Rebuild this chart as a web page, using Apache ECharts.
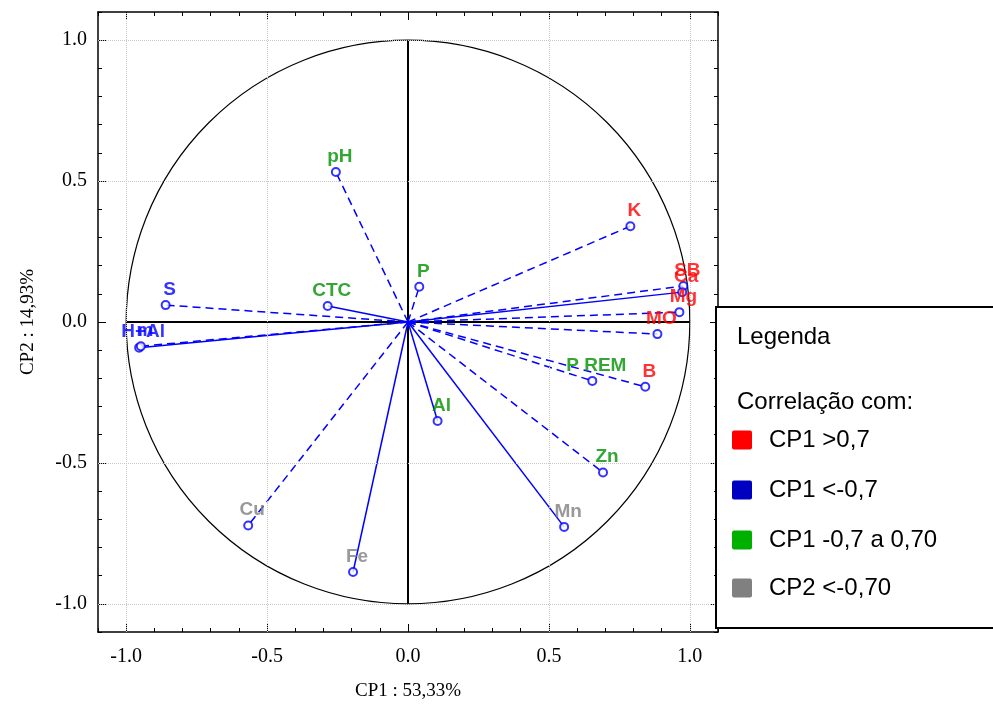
<!DOCTYPE html>
<html><head><meta charset="utf-8">
<script src="https://cdn.jsdelivr.net/npm/echarts@6/dist/echarts.min.js"></script>
<style>html,body{margin:0;padding:0;background:#fff}#c{width:993px;height:706px}</style>
</head><body><div id="c"></div>
<script>
// ---- data ----
const variables = ['pH','K','S','CTC','P','H+Al','m','SB','Ca','Mg','MO','B','P REM','Al','Zn','Mn','Cu','Fe'];
const cp1 = [-0.256, 0.789, -0.860, -0.285, 0.040, -0.954, -0.948, 0.977, 0.973, 0.963, 0.885, 0.842, 0.654, 0.105, 0.692, 0.554, -0.567, -0.195];
const cp2 = [0.532, 0.340, 0.060, 0.057, 0.125, -0.091, -0.086, 0.128, 0.106, 0.035, -0.043, -0.230, -0.209, -0.351, -0.534, -0.727, -0.722, -0.887];
const groups = ['mid','pos','neg','mid','mid','neg','neg','pos','pos','pos','pos','pos','mid','mid','mid','cp2','cp2','cp2'];
const dashed = [true,true,true,false,true,false,true,true,false,true,true,true,true,false,true,false,true,false];
const legendTitle = 'Legenda';
const legendSub = 'Correlação com:';
const legendKeys = ['pos','neg','mid','cp2'];
const legendLabels = ['CP1 >0,7','CP1 <-0,7','CP1 -0,7 a 0,70','CP2 <-0,70'];
const tickValues = [-1, -0.5, 0, 0.5, 1];
const axisMin = -1.1, axisMax = 1.1, minorStep = 0.1;
const xName = 'CP1 : 53,33%';
const yName = 'CP2 : 14,93%';

// ---- styles ----
const labelColors = {pos:'#FF0000', neg:'#0000FF', mid:'#009000', cp2:'#808080'};
const legendColors = {pos:'#FF0000', neg:'#0000C0', mid:'#00B000', cp2:'#808080'};
const serif = '"Liberation Serif","Times New Roman",serif';
const sans = '"Liberation Sans",Arial,sans-serif';

const chart = echarts.init(document.getElementById('c'));

function mkAxis(dim, pos, major, withLabels) {
  const a = {
    type:'value', position: pos, min: axisMin, max: axisMax, interval: minorStep,
    axisLine:{show:!major, onZero:false, lineStyle:{color:'#000', width:1.5}},
    axisTick:{show:true, inside:true, length: major ? 8 : 4, lineStyle:{color:'#000', width:1}},
    axisLabel:{show:false},
    splitLine:{show:false}
  };
  if (major) {
    a.axisTick.customValues = tickValues;
    if (withLabels) {
      a.axisLabel = {show:true, customValues: tickValues, formatter: v => v.toFixed(1),
        fontFamily: serif, fontSize: 20, color:'#000', margin: dim==='x' ? 15 : 11};
      a.name = dim==='x' ? xName : yName;
      a.nameLocation = 'middle';
      a.nameGap = dim==='x' ? 50 : 60;
      a.nameTextStyle = {fontFamily: serif, fontSize: 19, color:'#000'};
    }
  }
  return a;
}

const series = [];
// reference grid lines + zero axes
series.push({
  type:'line', data:[], xAxisIndex:0, yAxisIndex:0, silent:true,
  markLine:{silent:true, symbol:'none', label:{show:false},
    lineStyle:{color:'#C8C8C8', type:'dotted', width:1},
    data: tickValues.filter(v=>v!==0).map(v=>({xAxis:v})).concat(tickValues.filter(v=>v!==0).map(v=>({yAxis:v})))}
});
series.push({type:'line', data:[[tickValues[0],0],[tickValues[4],0]], symbol:'none', silent:true,
  lineStyle:{color:'#000', width:2}, z:3});
series.push({type:'line', data:[[0,tickValues[0]],[0,tickValues[4]]], symbol:'none', silent:true,
  lineStyle:{color:'#000', width:2}, z:3});
// unit circle
series.push({type:'custom', data:[[0,0]], silent:true, z:3,
  renderItem:(params, api) => {
    const c = api.coord([0,0]);
    const r = api.size([1,1]);
    return {type:'circle', shape:{cx:c[0], cy:c[1], r:r[0]}, style:{fill:'none', stroke:'#000', lineWidth:1.2}};
  }});
// vectors
variables.forEach((n,i) => {
  series.push({type:'line', name:n, data:[[0,0],[cp1[i],cp2[i]]], symbol:'none', silent:true, z:4,
    lineStyle:{color:'#0000FF', width:1.5, type: dashed[i] ? [8,5] : 'solid'}});
});
// points + labels
series.push({type:'scatter', z:6, symbol:'emptyCircle', symbolSize:8,
  itemStyle:{color:'#0000FF', borderWidth:1},
  label:{show:true, position:'top', distance:1, offset:[4,0], fontFamily:sans, fontWeight:'bold', fontSize:19},
  data: variables.map((n,i)=>({name:n, value:[cp1[i],cp2[i]], label:{formatter:n, color:labelColors[groups[i]]}}))
});

// legend box
const g = [{type:'rect', shape:{x:716, y:307, width:300, height:321}, style:{fill:'#fff', stroke:'#000', lineWidth:2}, z:100},
  {type:'text', x:737, y:337, style:{text:legendTitle, font:'24px '+sans, fill:'#000', verticalAlign:'middle'}, z:101},
  {type:'text', x:737, y:402, style:{text:legendSub, font:'24px '+sans, fill:'#000', verticalAlign:'middle'}, z:101}];
const itemY = [440, 490, 540, 588];
legendKeys.forEach((k,i)=>{
  g.push({type:'rect', shape:{x:732, y:itemY[i]-9.5, width:20, height:19, r:2}, style:{fill:legendColors[k]}, z:101});
  g.push({type:'text', x:769, y:itemY[i], style:{text:legendLabels[i], font:'24px '+sans, fill:'#000', verticalAlign:'middle'}, z:101});
});

chart.setOption({
  animation:false,
  backgroundColor:'#fff',
  grid:{left:98, top:12, width:620, height:620, containLabel:false},
  xAxis:[mkAxis('x','bottom',false), mkAxis('x','bottom',true,true), mkAxis('x','top',false), mkAxis('x','top',true,false)],
  yAxis:[mkAxis('y','left',false), mkAxis('y','left',true,true), mkAxis('y','right',false), mkAxis('y','right',true,false)],
  series: series,
  graphic: g
});
</script>
</body></html>
